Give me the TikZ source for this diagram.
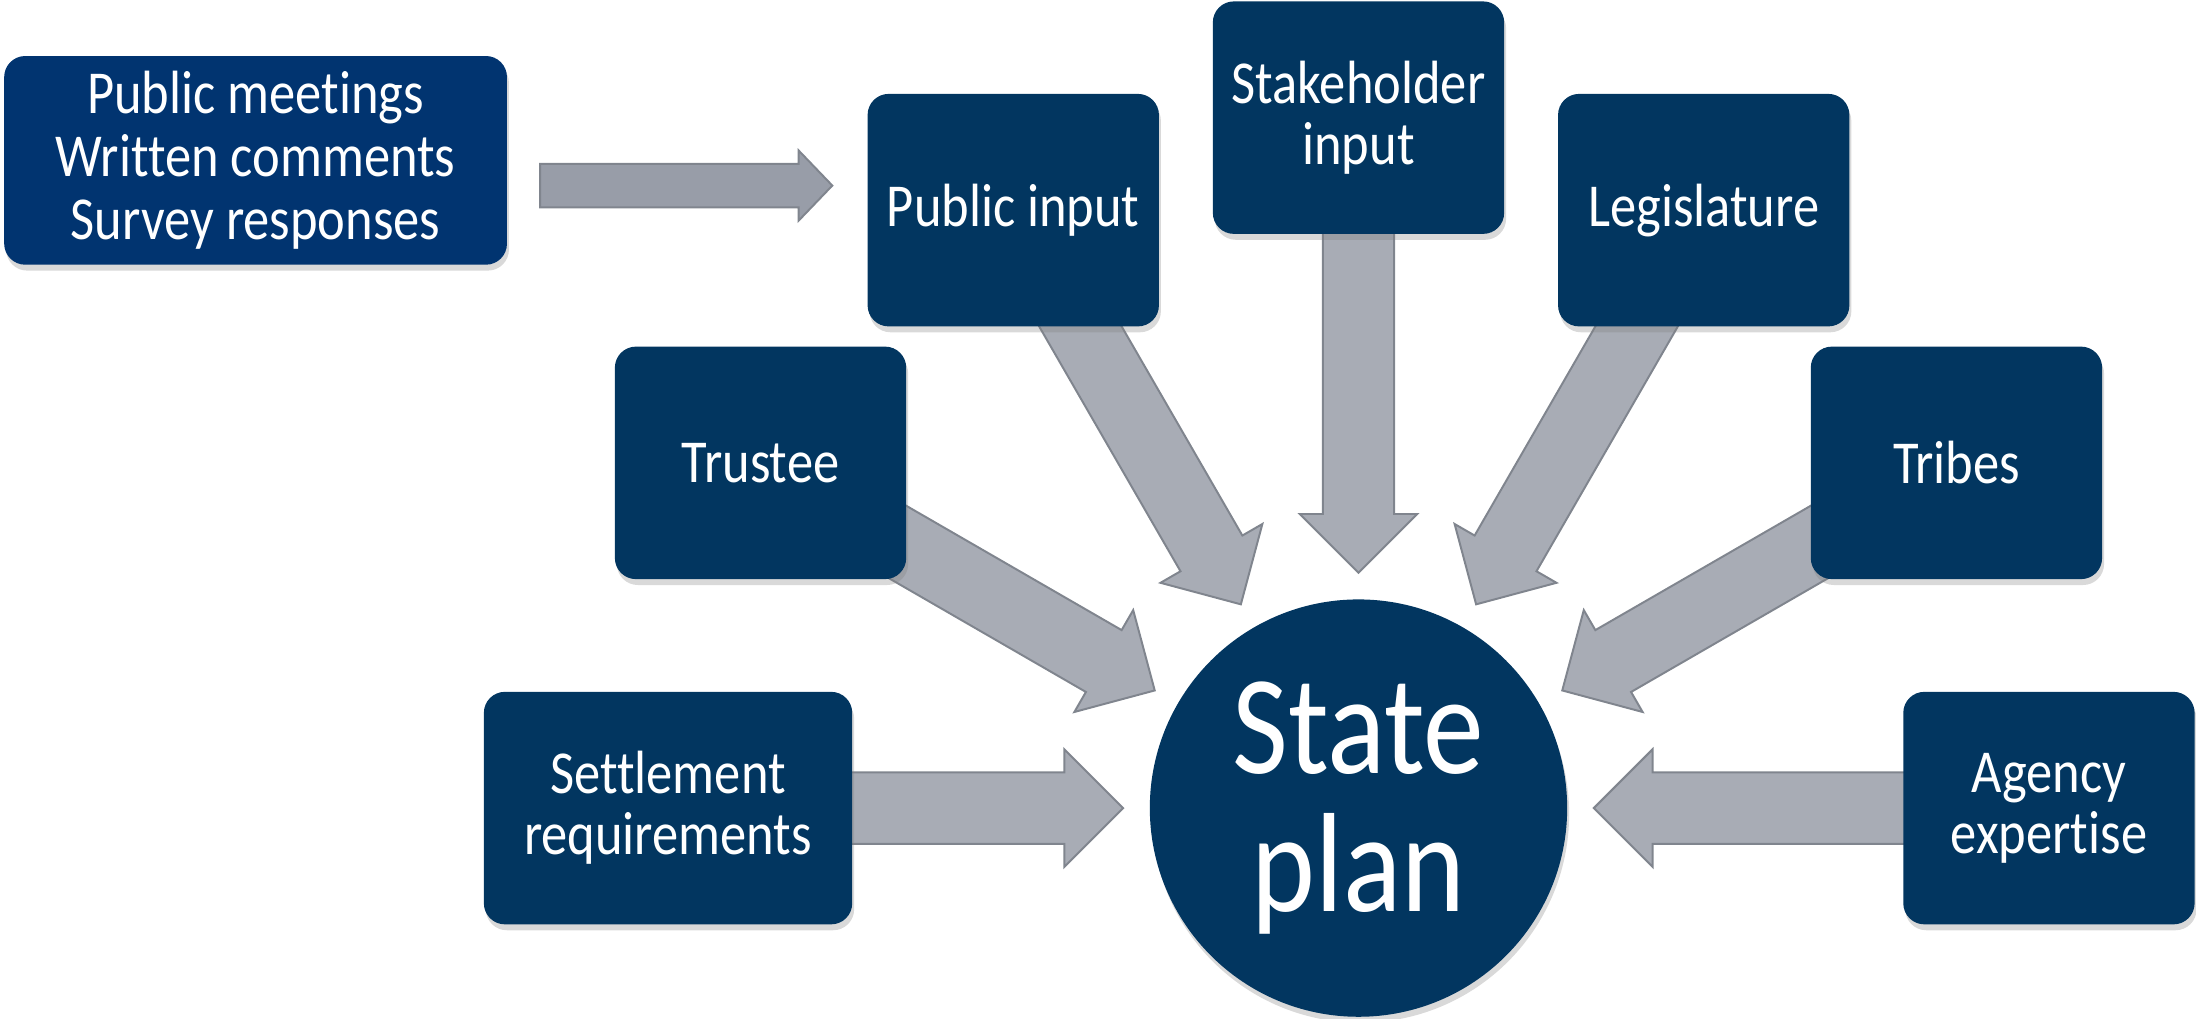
\documentclass[tikz,border=0pt]{standalone}
\usepackage{fontspec}
\setmainfont[FakeStretch=0.86,Ligatures=NoCommon]{Carlito}
\usepackage{tikz}
\usetikzlibrary{calc,shadows,backgrounds}
\definecolor{navy}{RGB}{2,54,96}
\definecolor{royal}{RGB}{1,52,112}
\definecolor{arrowgray}{RGB}{168,172,181}
\definecolor{arrowedge}{RGB}{128,133,142}
\definecolor{arrowdark}{RGB}{152,157,168}
% block arrow: from, to, shaft half width, head half width, head length
\newcommand{\bigarrow}[6][]{%
  \coordinate (hb) at ($(#3)!#6!(#2)$);
  \filldraw[#1] ($(#2)!#4!90:(#3)$) -- ($(hb)!#4!90:(#3)$) -- ($(hb)!#5!90:(#3)$)
    -- (#3) -- ($(hb)!#5!-90:(#3)$) -- ($(hb)!#4!-90:(#3)$) -- ($(#2)!#4!-90:(#3)$) -- cycle;}

\begin{document}
\begin{tikzpicture}[
    box/.style={rectangle, rounded corners=0.15cm, fill=navy, text=white,
      minimum width=2.08cm, minimum height=1.66cm, inner sep=0pt, align=center,
      font=\fontsize{12.4}{12.4}\selectfont,
      drop shadow={shadow xshift=0.4pt, shadow yshift=-1.2pt, opacity=0.3}},
    blockarrow/.style={fill=arrowgray, draw=arrowedge, line width=0.4pt}]
  \useasboundingbox (-9.70,-1.50) rectangle (5.98,5.77);
  \node [circle, fill=navy, text=white, minimum size=2.98cm, inner sep=0pt, align=center,
    font=\fontsize{28.7}{27.9}\selectfont,
    drop shadow={shadow xshift=0.4pt, shadow yshift=-1.2pt, opacity=0.3}] (plan) at (0,0) {State\\plan};
  \node [box] (agency) at (0:4.93) {Agency\\expertise};
  \node [box] (tribes) at (30:4.93) {Tribes};
  \node [box] (legis) at (60:4.93) {Legislature};
  \node [box] (stake) at (90:4.93) {Stakeholder\\input};
  \node [box] (pub) at (120:4.93) {Public input};
  \node [box] (trust) at (150:4.93) {Trustee};
  \node [box, minimum width=2.63cm] (settle) at (180:4.93) {Settlement\\requirements};
  \node [box, fill=royal, minimum width=3.59cm, minimum height=1.49cm,
    font=\fontsize{12.4}{12.8}\selectfont] (src) at (-7.875,4.625) {Public meetings\\Written comments\\Survey responses};
  \foreach \a in {0,30,...,180}
    \coordinate (t\a) at (\a:1.68);
  \coordinate (fa) at ($(src.east)+(0.23,-0.18)$);
  \coordinate (fb) at ($(pub.west |- fa)+(-0.245,0)$);
  \begin{pgfonlayer}{background}
    \foreach \a/\n in {0/agency,30/tribes,60/legis,90/stake,120/pub,150/trust,180/settle}
      {\bigarrow[blockarrow]{\n.center}{t\a}{0.255cm}{0.42cm}{0.42cm}}
    \bigarrow[blockarrow, fill=arrowdark]{fa}{fb}{0.155cm}{0.25cm}{0.24cm}
  \end{pgfonlayer}
\end{tikzpicture}
\end{document}
